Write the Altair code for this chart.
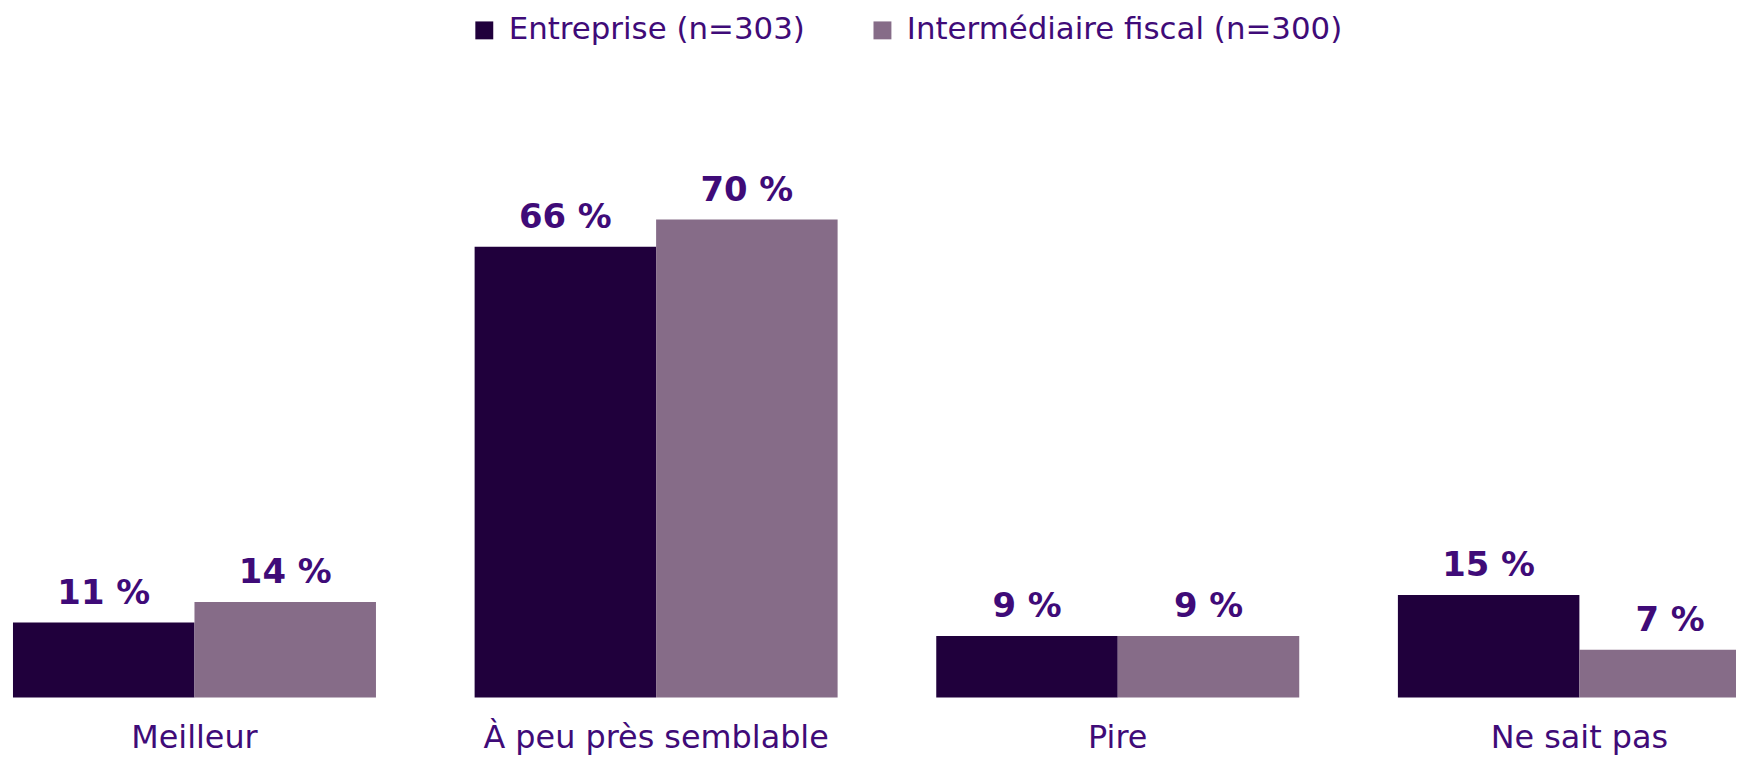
import altair as alt
import pandas as pd

categories = ["Meilleur", "À peu près semblable", "Pire", "Ne sait pas"]
series = ["Entreprise (n=303)", "Intermédiaire fiscal (n=300)"]
entreprise = [11, 66, 9, 15]
intermediaire = [14, 70, 9, 7]
colors = ["#20003c", "#866c88"]
text_color = "#3f0b78"

rows = []
for c, a, b in zip(categories, entreprise, intermediaire):
    rows.append({"cat": c, "serie": series[0], "val": a, "label": f"{a} %"})
    rows.append({"cat": c, "serie": series[1], "val": b, "label": f"{b} %"})
df = pd.DataFrame(rows)

x_enc = alt.X(
    "cat:N",
    sort=categories,
    scale=alt.Scale(range=[0, 1756], paddingInner=0.2137, paddingOuter=0),
    axis=alt.Axis(
        title=None, domain=False, ticks=False, tickSize=0, labelAngle=0,
        labelFont="DejaVu Sans", labelFontSize=32, labelColor=text_color,
        labelBaseline="alphabetic", labelPadding=50, labelLimit=1000,
    ),
)
xo_enc = alt.XOffset("serie:N", sort=series, scale=alt.Scale(paddingInner=0, paddingOuter=0))
y_enc = alt.Y("val:Q", scale=alt.Scale(domain=[0, 100]), axis=None)

bars = alt.Chart(df).mark_bar().encode(
    x=x_enc,
    xOffset=xo_enc,
    y=y_enc,
    color=alt.Color(
        "serie:N",
        sort=series,
        scale=alt.Scale(domain=series, range=colors),
        legend=alt.Legend(
            title=None, orient="none", legendX=458, legendY=0,
            direction="horizontal", symbolType="square", symbolSize=324,
            symbolStrokeWidth=0, labelFont="DejaVu Sans", labelFontSize=31,
            labelColor=text_color, labelOffset=9, columnPadding=62,
            labelLimit=1000,
        ),
    ),
)

labels = alt.Chart(df).mark_text(
    font="DejaVu Sans", fontSize=34, fontWeight="bold", color=text_color,
    baseline="alphabetic", dy=-19,
).encode(
    x=alt.X("cat:N", sort=categories),
    xOffset=alt.XOffset("serie:N", sort=series),
    y="val:Q",
    text="label:N",
)

chart = alt.layer(bars, labels).properties(
    width=1731,
    height=686,
    autosize=alt.AutoSizeParams(type="none"),
    padding={"left": 5, "top": 5, "right": 0, "bottom": 59},
).configure_view(stroke=None)

chart.save("out.html", embed_options={"renderer": "svg", "actions": False})
